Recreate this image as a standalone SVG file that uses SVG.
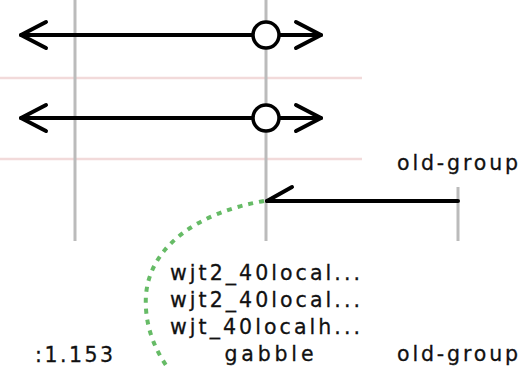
<svg xmlns="http://www.w3.org/2000/svg" width="527" height="368" viewBox="0 0 527 368">
<style>
.life{stroke:#bbbbbb;stroke-width:3;fill:none}
.sep{stroke:#f2dada;stroke-width:2.5;fill:none}
.msg{stroke:#000;stroke-width:4;fill:none;stroke-linecap:round;stroke-linejoin:round}
.t{font-family:"DejaVu Sans",sans-serif;font-size:20.5px;fill:#111;stroke:#111;stroke-width:0.3}
</style>
<rect width="527" height="368" fill="#fff"/>
<g id="separators">
<line class="sep" x1="0" y1="78" x2="362" y2="78"/>
<line class="sep" x1="0" y1="159" x2="362" y2="159"/>
</g>
<g id="lifeline-1"><line class="life" x1="75" y1="0" x2="75" y2="241"/><text class="t" x="74" y="362" text-anchor="middle" textLength="78" lengthAdjust="spacing">:1.153</text></g>
<g id="lifeline-2"><line class="life" x1="266" y1="0" x2="266" y2="241"/>
<text class="t" x="265" y="280" text-anchor="middle" textLength="190" lengthAdjust="spacing">wjt2_40local...</text>
<text class="t" x="265" y="307" text-anchor="middle" textLength="190" lengthAdjust="spacing">wjt2_40local...</text>
<text class="t" x="265" y="334" text-anchor="middle" textLength="190" lengthAdjust="spacing">wjt_40localh...</text>
<text class="t" x="269" y="361" text-anchor="middle" textLength="89" lengthAdjust="spacing">gabble</text>
</g>
<g id="lifeline-3"><line class="life" x1="458" y1="187" x2="458" y2="241"/>
<text class="t" x="457.5" y="170" text-anchor="middle" textLength="121" lengthAdjust="spacing">old-group</text>
<text class="t" x="457.5" y="361" text-anchor="middle" textLength="121" lengthAdjust="spacing">old-group</text>
</g>
<g id="connectors">
<g id="msg1">
<line class="msg" x1="21" y1="35" x2="253" y2="35"/>
<line class="msg" x1="279" y1="35" x2="321" y2="35"/>
<polyline class="msg" points="46,22 21,35 46,48"/>
<polyline class="msg" points="296,22 321,35 296,48"/>
<circle cx="266" cy="35" r="13" fill="#fff" stroke="#000" stroke-width="3.5"/>
</g>
<g id="msg2">
<line class="msg" x1="21" y1="118" x2="253" y2="118"/>
<line class="msg" x1="279" y1="118" x2="321" y2="118"/>
<polyline class="msg" points="46,105 21,118 46,131"/>
<polyline class="msg" points="296,105 321,118 296,131"/>
<circle cx="266" cy="118" r="13" fill="#fff" stroke="#000" stroke-width="3.5"/>
</g>
<g id="msg3">
<line class="msg" x1="267" y1="201" x2="458" y2="201"/>
<line class="msg" x1="267" y1="201" x2="292" y2="187"/>
</g>
<path id="dotted" d="M264,201 C200,212 150,245 146,295 C144,325 155,350 168,368" fill="none" stroke="#66bb66" stroke-width="4" stroke-dasharray="5,6"/>
</g>
</svg>
